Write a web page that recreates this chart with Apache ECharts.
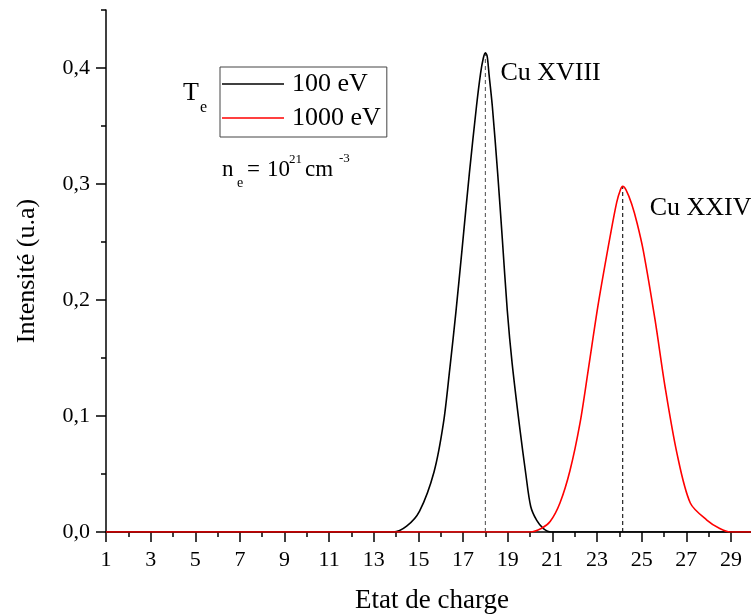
<!DOCTYPE html>
<html><head><meta charset="utf-8">
<script src="https://cdn.jsdelivr.net/npm/echarts@6/dist/echarts.min.js"></script>
<style>html,body{margin:0;padding:0;background:#fff}#c{width:751px;height:615px}</style>
</head><body><div id="c"></div>
<script>
// ---- data ----
const seriesNames = ['100 eV', '1000 eV'];
const charge100 = [1,2,3,4,5,6,7,8,9,10,11,12,13,13.87,14.47,15.05,15.7,16.12,16.4,16.68,16.96,17.28,17.6,17.78,17.9,18.0,18.08,18.16,18.31,18.55,18.76,18.98,19.2,19.55,19.81,20.03,20.3,20.6,20.95,22,23,24,25,26,27,28,29,30];
const intens100 = [0,0,0,0,0,0,0,0,0,0,0,0,0,0,0.005,0.018,0.052,0.094,0.14,0.19,0.245,0.309,0.367,0.395,0.408,0.413,0.410,0.395,0.367,0.309,0.252,0.191,0.145,0.088,0.05,0.022,0.01,0.003,0,0,0,0,0,0,0,0,0,0];
const charge1000 = [1,2,3,4,5,6,7,8,9,10,11,12,13,14,15,16,17,18,19,20.0,20.5,20.9,21.34,21.79,22.24,22.61,23.06,23.59,23.88,24.05,24.15,24.3,24.55,24.8,25.08,25.6,26.05,26.58,27.18,27.92,28.5,28.97,30];
const intens1000 = [0,0,0,0,0,0,0,0,0,0,0,0,0,0,0,0,0,0,0,0,0.003,0.009,0.025,0.053,0.094,0.14,0.197,0.255,0.284,0.295,0.298,0.295,0.283,0.266,0.242,0.183,0.125,0.068,0.025,0.0103,0.003,0,0];
const peakCharge = [18.0, 24.15];
const peakIntens = [0.413, 0.298];
const peakLabels = ['Cu XVIII', 'Cu XXIV'];
const xTickLabels = [1,3,5,7,9,11,13,15,17,19,21,23,25,27,29];
const xMinorTicks = [2,4,6,8,10,12,14,16,18,20,22,24,26,28];
const yTickLabels = [0,0.1,0.2,0.3,0.4];
const yMinorTicks = [0.05,0.15,0.25,0.35,0.45];

const FONT = "'Liberation Serif','Times New Roman',serif";
const pairs = (xs, ys) => xs.map((x, i) => [x, ys[i]]);

const chart = echarts.init(document.getElementById('c'), null, {renderer: 'canvas'});
const axisLineStyle = {color: '#000', width: 1.5};
const option = {
  animation: false,
  backgroundColor: '#fff',
  grid: {left: 106, right: 0, top: 10, bottom: 83, containLabel: false, outerBoundsMode: 'none'},
  legend: {
    orient: 'vertical', left: 220, top: 67,
    data: seriesNames,
    icon: 'rect', itemWidth: 62, itemHeight: 1.5, itemGap: 8,
    borderColor: '#444', borderWidth: 1, padding: [4, 6, 6, 2],
    textStyle: {fontFamily: FONT, fontSize: 26, color: '#000', lineHeight: 26, padding: [0, 0, 0, 3]},
    selectedMode: false
  },
  xAxis: [{
    type: 'value', min: 1, max: 29.9, interval: 1,
    name: 'Etat de charge', nameLocation: 'middle', nameGap: 55,
    nameTextStyle: {fontFamily: FONT, fontSize: 27, color: '#000', padding: [0, 0, 0, 7]},
    axisLine: {show: true, onZero: false, lineStyle: axisLineStyle},
    axisTick: {show: true, inside: false, length: 10, lineStyle: {color: '#000', width: 1.5}, customValues: xTickLabels},
    axisLabel: {show: true, customValues: xTickLabels, margin: 17, fontFamily: FONT, fontSize: 22, color: '#000'},
    splitLine: {show: false}
  }, {
    type: 'value', min: 1, max: 29.9, position: 'bottom',
    axisLine: {show: false},
    axisTick: {show: true, inside: false, length: 5, lineStyle: {color: '#000', width: 1.5}, customValues: xMinorTicks},
    axisLabel: {show: false}, splitLine: {show: false}
  }],
  yAxis: [{
    type: 'value', min: 0, max: 0.45, interval: 0.05,
    name: 'Intensité (u.a)', nameLocation: 'middle', nameGap: 66, nameRotate: 90,
    nameTextStyle: {fontFamily: FONT, fontSize: 26, color: '#000'},
    axisLine: {show: true, onZero: false, lineStyle: axisLineStyle},
    axisTick: {show: true, inside: false, length: 10, lineStyle: {color: '#000', width: 1.5}, customValues: yTickLabels},
    axisLabel: {show: true, customValues: yTickLabels, margin: 16, fontFamily: FONT, fontSize: 22, color: '#000',
      formatter: v => v.toFixed(1).replace('.', ',')},
    splitLine: {show: false}
  }, {
    type: 'value', min: 0, max: 0.45, position: 'left',
    axisLine: {show: false},
    axisTick: {show: true, inside: false, length: 5, lineStyle: {color: '#000', width: 1.5}, customValues: yMinorTicks},
    axisLabel: {show: false}, splitLine: {show: false}
  }],
  series: [
    {
      name: 'peak100', type: 'line', xAxisIndex: 0, yAxisIndex: 0, showSymbol: false, silent: true,
      data: [[peakCharge[0], 0], [peakCharge[0], peakIntens[0]]],
      lineStyle: {color: '#666', width: 1.2, type: [4, 3]}, z: 1
    },
    {
      name: 'peak1000', type: 'line', xAxisIndex: 0, yAxisIndex: 0, showSymbol: false, silent: true,
      data: [[peakCharge[1], 0], [peakCharge[1], peakIntens[1]]],
      lineStyle: {color: '#222', width: 1.2, type: [4, 3]}, z: 1
    },
    {
      name: seriesNames[0], type: 'line', xAxisIndex: 0, yAxisIndex: 0,
      data: pairs(charge100, intens100), showSymbol: false, smooth: 0.3,
      lineStyle: {color: '#000', width: 1.6}, itemStyle: {color: '#000'}, z: 3
    },
    {
      name: seriesNames[1], type: 'line', xAxisIndex: 0, yAxisIndex: 0,
      data: pairs(charge1000, intens1000), showSymbol: false, smooth: 0.3,
      lineStyle: {color: '#ff0000', width: 1.6}, itemStyle: {color: '#ff0000'}, z: 4
    }
  ]
};
chart.setOption(option);

// annotations placed next to the peaks (converted through the axes)
function txt(text, x, y, size) {
  return {type: 'text', x: x, y: y, silent: true, z: 100,
    style: {text: text, fontFamily: FONT, fontSize: size, fill: '#000', align: 'left', verticalAlign: 'middle'}};
}
const p1 = chart.convertToPixel({gridIndex: 0}, [peakCharge[0], peakIntens[0]]);
const p2 = chart.convertToPixel({gridIndex: 0}, [peakCharge[1], peakIntens[1]]);
chart.setOption({
  graphic: [
    txt(peakLabels[0], p1[0] + 15, p1[1] + 20, 26),
    txt(peakLabels[1], p2[0] + 27, p2[1] + 22, 26),
    txt('T', 183, 93, 26),
    txt('e', 200, 108, 16),
    txt('n', 222, 170, 23),
    txt('e', 237, 183.5, 14),
    txt('=', 247, 170, 23),
    txt('10', 267, 170, 23),
    txt('21', 289, 160, 13),
    txt('cm', 305, 170, 23),
    txt('-3', 339, 159, 13)
  ]
});
</script>
</body></html>
